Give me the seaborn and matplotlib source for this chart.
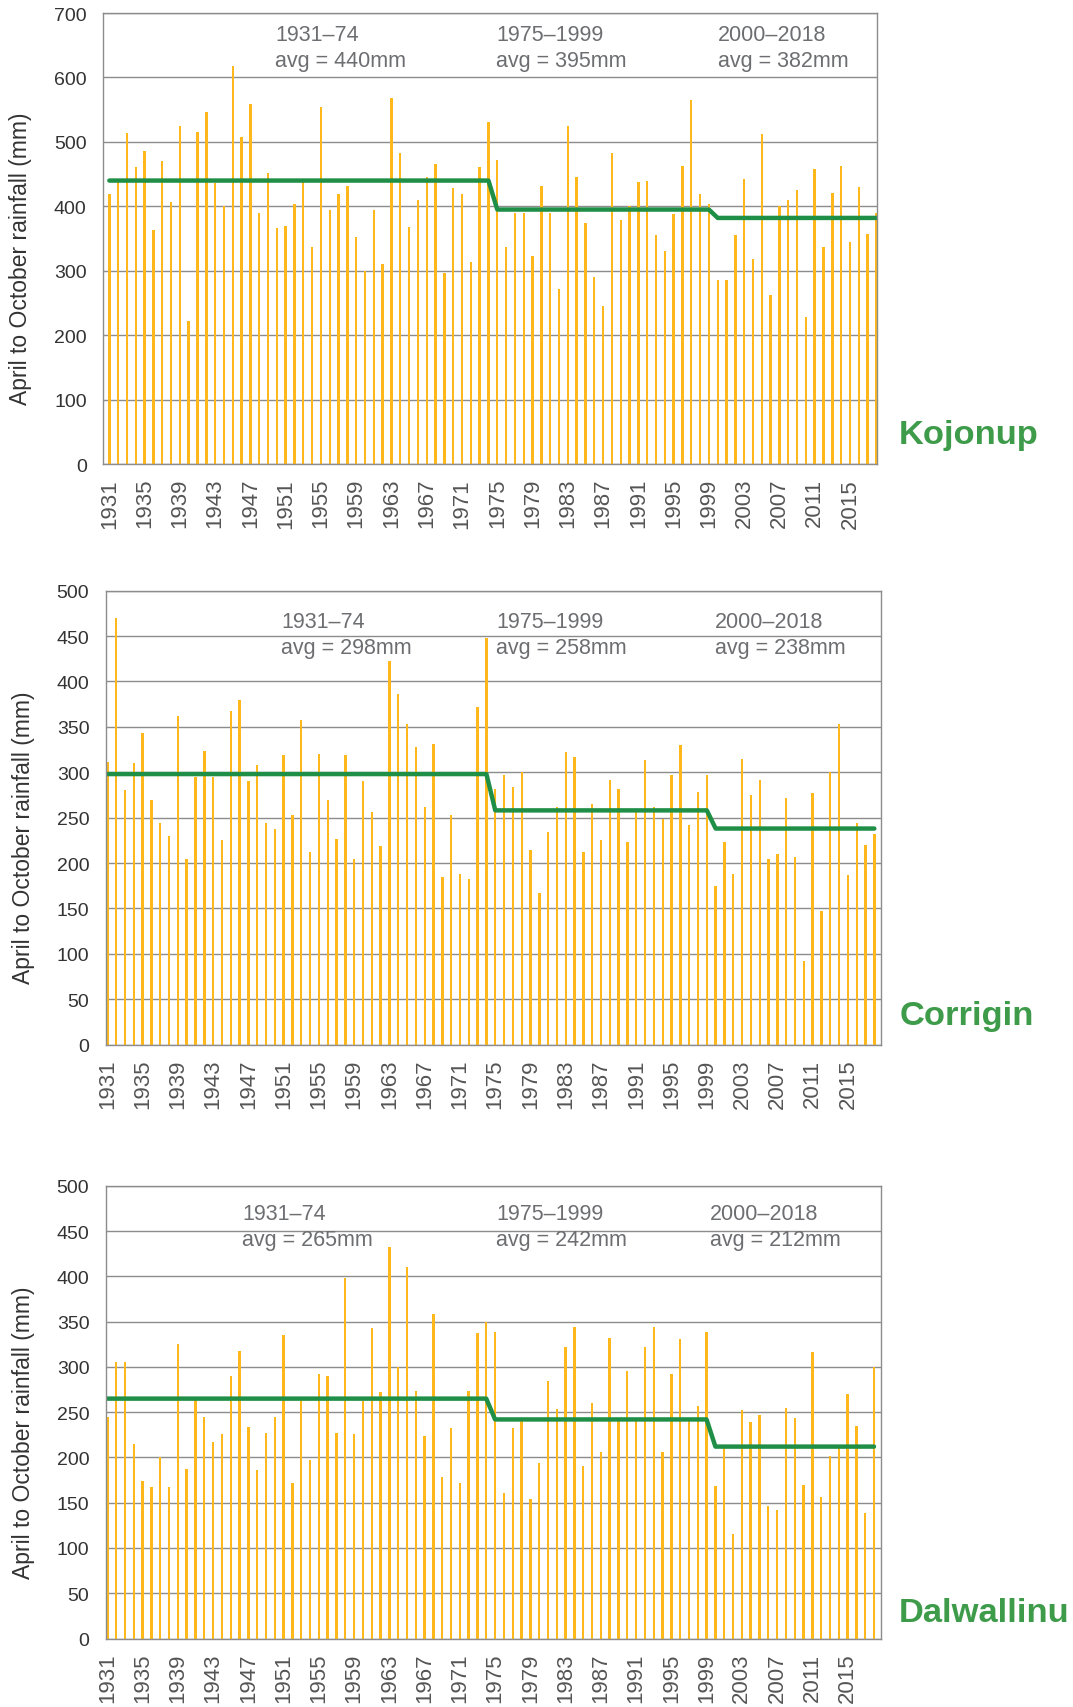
import numpy as np
import pandas as pd
import matplotlib
matplotlib.use("Agg")
import matplotlib.pyplot as plt
import matplotlib.transforms as mtransforms
import seaborn as sns

years = np.arange(1931, 2019)

# April-October rainfall (mm)
kojonup = [419, 438, 514, 461, 486, 363, 470, 407, 524, 222,
           516, 547, 436, 400, 617, 507, 559, 390, 452, 367,
           370, 403, 437, 337, 554, 394, 419, 432, 353, 299,
           394, 311, 568, 482, 368, 410, 445, 466, 297, 428,
           419, 314, 461, 531, 472, 337, 390, 390, 323, 431,
           390, 272, 524, 445, 374, 290, 246, 482, 379, 400,
           437, 439, 356, 330, 388, 463, 565, 419, 403, 286,
           286, 356, 442, 319, 513, 262, 400, 410, 426, 229,
           458, 337, 421, 463, 344, 430, 357, 390]
corrigin = [311, 470, 280, 310, 343, 269, 244, 230, 362, 204,
            295, 323, 295, 225, 367, 380, 290, 308, 244, 237,
            319, 253, 358, 212, 320, 269, 227, 319, 205, 290,
            256, 219, 422, 386, 353, 328, 262, 331, 185, 253,
            188, 182, 372, 448, 282, 297, 284, 300, 214, 167,
            234, 262, 322, 317, 212, 265, 225, 292, 282, 223,
            260, 314, 262, 248, 297, 330, 242, 278, 297, 175,
            223, 188, 315, 275, 292, 205, 210, 272, 207, 92,
            277, 147, 300, 353, 187, 244, 220, 232]
dalwallinu = [245, 305, 305, 215, 174, 167, 201, 167, 325, 187,
              265, 245, 217, 226, 290, 318, 234, 186, 227, 245,
              335, 172, 263, 197, 292, 290, 227, 398, 226, 262,
              343, 272, 432, 300, 410, 273, 224, 358, 178, 232,
              172, 273, 337, 350, 339, 161, 232, 241, 154, 194,
              285, 254, 322, 344, 191, 260, 206, 332, 243, 295,
              243, 322, 344, 206, 292, 331, 241, 257, 339, 168,
              212, 115, 252, 239, 247, 146, 142, 255, 244, 170,
              317, 156, 202, 212, 270, 235, 139, 300]

stations = ["Kojonup", "Corrigin", "Dalwallinu"]
rainfall = [kojonup, corrigin, dalwallinu]

# period averages
periods = ["1931\u201374", "1975\u20131999", "2000\u20132018"]
period_len = [44, 25, 19]
averages = [[440, 395, 382], [298, 258, 238], [265, 242, 212]]

y_max = [700, 500, 500]
y_step = [100, 50, 50]

BAR = "#FFB81C"
GREEN = "#1F8E47"
NAME_GREEN = "#3D9B4A"
GRID = "#8C8C8C"
NOTE = "#6D6E71"

sns.set_theme(style="white")
plt.rcParams["font.family"] = ["Liberation Sans", "DejaVu Sans"]

fig = plt.figure(figsize=(10.73, 17.08), dpi=100)

boxes = [[0.0963, 0.7277, 0.7213, 0.2641],
         [0.0988, 0.3878, 0.7223, 0.2658],
         [0.0988, 0.0401, 0.7220, 0.2650]]
xlims = [(1930.32, 2018.1), (1930.85, 2018.76), (1930.85, 2018.76)]
note_x = [[1949.8, 1974.9, 2000.0], [1950.7, 1975.1, 1999.9], [1946.3, 1975.1, 1999.4]]
note_y = [(0.952, 0.894), (0.933, 0.875), (0.9386, 0.881)]
name_y = [0.745, 0.4050, 0.0554]

for i in range(3):
    ax = fig.add_axes(boxes[i])
    df = pd.DataFrame({"year": years, "rain": rainfall[i]})
    sns.barplot(data=df, x="year", y="rain", native_scale=True, width=0.27,
                color=BAR, saturation=1, errorbar=None, linewidth=0, ax=ax)
    avg_line = np.repeat(averages[i], period_len)
    sns.lineplot(x=years, y=avg_line, color=GREEN, linewidth=3.2,
                 solid_capstyle="round", ax=ax)

    ax.set_xlim(*xlims[i])
    ax.set_ylim(0, y_max[i])
    ax.set_yticks(np.arange(0, y_max[i] + 1, y_step[i]))
    ax.set_xticks(np.arange(1931, 2019, 4))
    ax.set_xticklabels([str(y) for y in range(1931, 2019, 4)], rotation=90)
    ax.tick_params(axis="x", length=0, pad=10, labelsize=16, labelcolor="#555555")
    ax.tick_params(axis="y", length=0, pad=12, labelsize=14, labelcolor="#333333")
    ax.grid(axis="y", color=GRID, linewidth=1)
    ax.set_axisbelow(True)
    for s in ax.spines.values():
        s.set_color(GRID)
        s.set_linewidth(1)
    ax.set_xlabel("")
    ax.set_ylabel("April to October rainfall (mm)", fontsize=16.5, color="#333333")
    ax.yaxis.set_label_coords(-0.092, 0.457)

    trans = mtransforms.blended_transform_factory(ax.transData, ax.transAxes)
    for j in range(3):
        ax.text(note_x[i][j], note_y[i][0], periods[j], transform=trans,
                fontsize=15.5, color=NOTE, va="center", ha="left")
        ax.text(note_x[i][j], note_y[i][1], f"avg = {averages[i][j]}mm",
                transform=trans, fontsize=15.5, color=NOTE, va="center", ha="left")

    fig.text(0.838, name_y[i], stations[i], fontsize=24.8, fontweight="bold",
             color=NAME_GREEN, va="center", ha="left")

fig.savefig("out.png", dpi=100)
